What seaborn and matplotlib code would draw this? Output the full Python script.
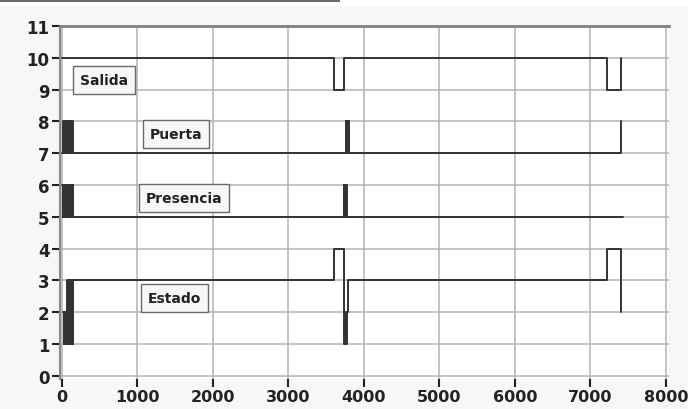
import numpy as np
import pandas as pd
import matplotlib
matplotlib.use("Agg")
import matplotlib.pyplot as plt
from matplotlib.patches import Rectangle
import seaborn as sns

# Señales digitales (tiempo de cada cambio, valor desde ese instante)
salida_t = [0, 3600, 3736, 7215, 7404]
salida_v = [10, 9, 10, 9, 10]

puerta_t = [0, 17, 27, 37, 47, 57, 67, 77, 87, 97, 107, 117, 127, 137, 142,
            3757, 3767, 3777, 3787, 3797, 3802, 7404]
puerta_v = [7, 8, 7, 8, 7, 8, 7, 8, 7, 8, 7, 8, 7, 8, 7,
            8, 7, 8, 7, 8, 7, 8]

presencia_t = [0, 10, 20, 30, 40, 50, 60, 70, 80, 90, 100, 110, 120, 130, 140, 145,
               3731, 3741, 3751, 3761, 3766, 3771, 7436]
presencia_v = [6, 5, 6, 5, 6, 5, 6, 5, 6, 5, 6, 5, 6, 5, 6, 5,
               6, 5, 6, 5, 6, 5, 5]

estado_t = [13, 23, 33, 43, 53, 63, 70, 80, 90, 100, 110, 120, 130, 140, 145,
            3600, 3736, 3744, 3752, 3760, 3768, 3771, 3793, 7215, 7404]
estado_v = [2, 1, 2, 1, 2, 1, 3, 1, 3, 1, 3, 1, 3, 1, 3,
            4, 1, 2, 1, 2, 1, 2, 3, 4, 2]

labels = ["Salida", "Puerta", "Presencia", "Estado"]
x_ticks = [0, 1000, 2000, 3000, 4000, 5000, 6000, 7000, 8000]
y_ticks = [0, 1, 2, 3, 4, 5, 6, 7, 8, 9, 10, 11]

# where each name box sits (data coords)
label_pos = [(556, 9.30), (1510, 7.60), (1616, 5.59), (1490, 2.46)]

df = pd.concat([
    pd.DataFrame({"t": salida_t, "v": salida_v, "senal": "Salida"}),
    pd.DataFrame({"t": puerta_t, "v": puerta_v, "senal": "Puerta"}),
    pd.DataFrame({"t": presencia_t, "v": presencia_v, "senal": "Presencia"}),
    pd.DataFrame({"t": estado_t, "v": estado_v, "senal": "Estado"}),
], ignore_index=True)

sns.set_theme(style="whitegrid", rc={
    "figure.facecolor": "#f7f7f7",
    "axes.facecolor": "white",
    "grid.color": "#b3b3b3",
    "grid.linewidth": 1.1,
})
plt.rcParams["font.family"] = ["DejaVu Sans"]

fig = plt.figure(figsize=(6.88, 4.10), dpi=100)
ax = fig.add_axes([60 / 688, 1 - 380 / 410, 609 / 688, 353 / 410])

sns.lineplot(data=df, x="t", y="v", hue="senal", palette=["#333333"] * 4,
             estimator=None, sort=False, drawstyle="steps-post",
             legend=False, linewidth=1.4, ax=ax, zorder=3)

for name, (lx, ly) in zip(labels, label_pos):
    ax.text(lx, ly, name, ha="center", va="center", fontsize=10,
            fontweight="bold", color="#222222", zorder=5,
            bbox=dict(boxstyle="square,pad=0.5", fc="#f7f7f7",
                      ec="#6a6a6a", lw=1.0))

ax.set_xlim(-26, 8040)
ax.set_ylim(-0.1, 11)
ax.set_xticks(x_ticks)
ax.set_yticks(y_ticks)
ax.set_xlabel("")
ax.set_ylabel("")
ax.tick_params(axis="both", which="major", length=6, width=1.5,
               color="#222222", labelcolor="#222222", labelsize=12,
               left=True, bottom=True)
ax.tick_params(axis="x", pad=1.5, labelsize=11.5)
ax.tick_params(axis="y", pad=1.5)
for lab in ax.get_xticklabels() + ax.get_yticklabels():
    lab.set_fontweight("bold")

ax.spines["right"].set_visible(False)
ax.spines["bottom"].set_visible(False)
ax.spines["left"].set_color("#888888")
ax.spines["left"].set_linewidth(1.5)
ax.spines["top"].set_color("#808080")
ax.spines["top"].set_linewidth(2)

# remnant of the window header at the very top
fig.add_artist(Rectangle((0, 1 - 7 / 410), 1, 7 / 410, transform=fig.transFigure,
                         fc="white", ec="none"))
fig.add_artist(Rectangle((0, 1 - 2.5 / 410), 340 / 688, 2.5 / 410,
                         transform=fig.transFigure, fc="#6a6a6a", ec="none"))

fig.savefig("out.png", dpi=100, facecolor=fig.get_facecolor())
